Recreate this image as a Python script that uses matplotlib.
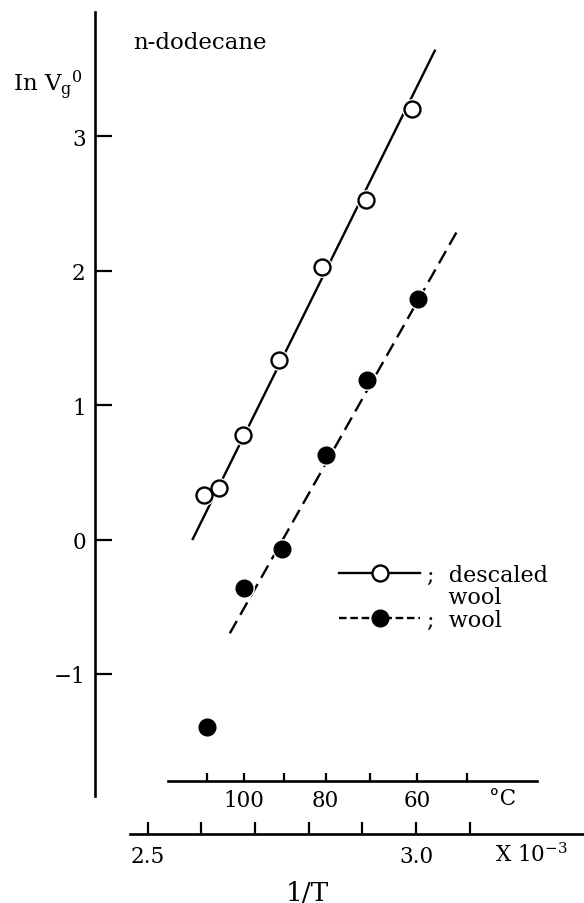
import matplotlib
matplotlib.use("Agg")
import matplotlib.pyplot as plt
from matplotlib.lines import Line2D
import numpy as np

# 1/T (x 10^-3) and ln Vg0
descaled_x = [2.604, 2.632, 2.677, 2.745, 2.824, 2.907, 2.993]
descaled_y = [0.331, 0.385, 0.780, 1.338, 2.030, 2.526, 3.203]
wool_x = [2.611, 2.680, 2.751, 2.832, 2.909, 3.004]
wool_y = [-1.397, -0.359, -0.073, 0.631, 1.187, 1.789]

# fitted lines (end points)
descaled_fit_x = [2.584, 3.035]
descaled_fit_y = [0.004, 3.637]
wool_fit_x = [2.653, 3.081]
wool_fit_y = [-0.698, 2.325]

y_ticks = [-1, 0, 1, 2, 3]
x_ticks = [2.5, 2.6, 2.7, 2.8, 2.9, 3.0, 3.1]
x_labels = ["2.5", "", "", "", "", "3.0", ""]
temps_c = [110, 100, 90, 80, 70, 60, 50]
temp_labels = ["", "100", "", "80", "", "60", ""]

W, H = 584, 904


def fx(px):
    return px / W


def fy(py):
    return 1 - py / H


def main() -> None:
    plt.rcParams["font.family"] = ["DejaVu Serif", "DejaVu Sans"]
    plt.rcParams["mathtext.fontset"] = "dejavuserif"

    fig = plt.figure(figsize=(W / 100, H / 100), dpi=100)
    ax = fig.add_axes([fx(95.5), fy(835), (W - 95.5) / W, (835 - 13) / H])
    ax.set_xlim(2.4027, 3.3131)
    ax.set_ylim(-2.191, 3.925)

    ax.plot(descaled_fit_x, descaled_fit_y, color="black", lw=1.7, zorder=2)
    ax.plot(wool_fit_x, wool_fit_y, color="black", lw=1.7, dashes=(6, 3), zorder=2)

    # white halo so the line breaks around the markers
    ax.plot(descaled_x, descaled_y, "o", ms=15, mfc="white", mec="none", zorder=3)
    ax.plot(wool_x, wool_y, "o", ms=15, mfc="white", mec="none", zorder=3)
    ax.plot(descaled_x, descaled_y, "o", ms=11.5, mfc="white", mec="black", mew=1.7, zorder=4)
    ax.plot(wool_x, wool_y, "o", ms=12, mfc="black", mec="black", zorder=4)

    for side in ("top", "right"):
        ax.spines[side].set_visible(False)
    ax.spines["left"].set_linewidth(1.9)
    ax.spines["bottom"].set_linewidth(1.9)
    ax.spines["left"].set_bounds(-1.908, 3.925)
    ax.spines["bottom"].set_bounds(2.467, 3.313)

    ax.set_yticks(y_ticks)
    ax.set_xticks(x_ticks)
    ax.set_xticklabels(x_labels)
    ax.tick_params(axis="y", direction="in", length=12, width=1.6, pad=7, labelsize=15.5)
    ax.tick_params(axis="x", direction="in", length=8.5, width=1.6, pad=8, labelsize=15.5)

    # temperature scale
    ax2 = fig.add_axes([fx(95.5), fy(781.7), (W - 95.5) / W, 0.01])
    ax2.set_xlim(ax.get_xlim())
    ax2.patch.set_visible(False)
    for side in ("top", "right", "left"):
        ax2.spines[side].set_visible(False)
    ax2.spines["bottom"].set_linewidth(1.9)
    ax2.spines["bottom"].set_bounds(2.5378, 3.2255)
    ax2.set_yticks([])
    ax2.set_xticks(1000.0 / (np.array(temps_c) + 273.15))
    ax2.set_xticklabels(temp_labels)
    ax2.tick_params(axis="x", direction="in", length=6, width=1.6, pad=6, labelsize=15.5)

    handles = [
        Line2D([], [], color="black", lw=1.7, marker="o", ms=11.5, mfc="white", mew=1.7),
        Line2D([], [], color="none"),
        Line2D([], [], color="black", lw=1.7, dashes=(3.2, 1.6), marker="o", ms=12, mfc="black"),
    ]
    labels = [";  descaled", "   wool", ";  wool"]
    ax.legend(handles, labels, loc="upper left", bbox_to_anchor=(fx(339), fy(565)),
              bbox_transform=fig.transFigure, frameon=False, numpoints=1,
              handlelength=3.65, handletextpad=0.3, labelspacing=0.02,
              borderpad=0, borderaxespad=0, fontsize=16)

    fig.text(fx(133), fy(43), "n-dodecane", fontsize=16.5, ha="left", va="center")
    fig.text(fx(13), fy(85), r"In V$_{\rm g}$$^{\rm 0}$", fontsize=16.5, ha="left", va="center")
    fig.text(fx(503), fy(799), "°C", fontsize=15.5, ha="center", va="center")
    fig.text(fx(495), fy(855), r"X 10$^{-3}$", fontsize=15.5, ha="left", va="center")
    fig.text(fx(307), fy(893), "1/T", fontsize=19, ha="center", va="center")

    fig.savefig("out.png", dpi=100)
    plt.close(fig)


if __name__ == "__main__":
    main()
